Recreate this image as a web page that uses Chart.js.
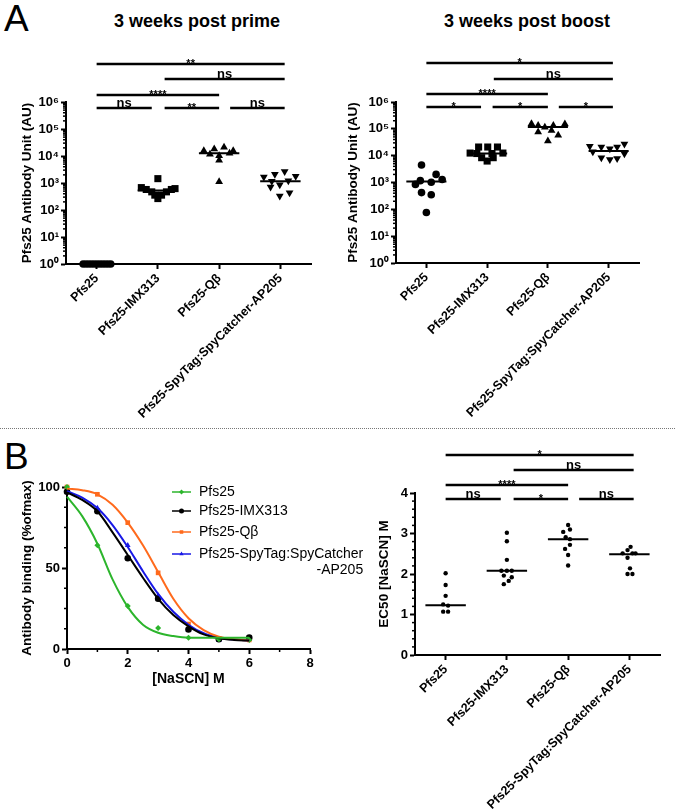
<!DOCTYPE html>
<html>
<head>
<meta charset="utf-8">
<script src="https://cdn.jsdelivr.net/npm/chart.js@4.4.0/dist/chart.umd.min.js"></script>
<style>
  body { margin: 0; background: #fff; width: 675px; height: 810px; position: relative; overflow: hidden;
         font-family: "Liberation Sans", Arial, sans-serif; }
  .panel { position: absolute; }
  .letter { position: absolute; font-size: 37px; line-height: 1; }
  .title { position: absolute; width: 220px; text-align: center; font-weight: bold; font-size: 18px; line-height: 20px; }
  #divider { position: absolute; left: 0; top: 428px; width: 675px; border-top: 1px dotted #777; }
</style>
</head>
<body>
<div class="letter" style="left:4px;top:0px">A</div>
<div class="letter" style="left:4px;top:438px">B</div>
<div class="title" style="left:87px;top:11px">3 weeks post prime</div>
<div class="title" style="left:417px;top:11px">3 weeks post boost</div>
<div id="divider"></div>

<div class="panel" style="left:0;top:0;width:330px;height:425px"><canvas id="prime"></canvas></div>
<div class="panel" style="left:330px;top:0;width:345px;height:425px"><canvas id="boost"></canvas></div>
<div class="panel" style="left:0;top:432px;width:375px;height:378px"><canvas id="avidity"></canvas></div>
<div class="panel" style="left:345px;top:432px;width:330px;height:378px"><canvas id="ec50"></canvas></div>

<script>
// ---- data ----
const groups = ["Pfs25", "Pfs25-IMX313", "Pfs25-Qβ", "Pfs25-SpyTag:SpyCatcher-AP205"];
const logTicks = [1, 10, 100, 1000, 10000, 100000, 1000000];
const logTickLabels = ["10⁰", "10¹", "10²", "10³", "10⁴", "10⁵", "10⁶"];

// 3 weeks post prime (AU)
const primePfs25 = [1, 1, 1, 1, 1, 1, 1, 1, 1, 1];
const primeIMX313 = [1450, 675, 575, 470, 355, 265, 355, 470, 575, 620];
const primeQb = [15500, 18200, 21000, 15500, 11700, 10200, 12600, 7000, 1120];
const primeAP205 = [1660, 2090, 2690, 1780, 1150, 870, 1200, 710, 330, 440];
const primeMedians = [1, 522, 12600, 1170];

// 3 weeks post boost (AU)
const boostPfs25 = [4500, 2000, 1290, 1020, 1170, 850, 420, 350, 76];
const boostIMX313 = [21000, 21000, 21000, 12500, 12000, 12000, 12500, 8400, 8400, 6300];
const boostQb = [155000, 132000, 115000, 132000, 151000, 76000, 87000, 58000, 35000];
const boostAP205 = [22400, 20900, 18200, 20900, 27500, 14100, 8300, 7200, 7900, 11700];
const boostMedians = [1100, 12000, 117000, 15000];

// EC50 [NaSCN] M
const ec50Pfs25 = [2.02, 1.73, 1.46, 1.25, 1.22, 1.07, 1.07];
const ec50IMX313 = [3.02, 2.81, 2.35, 2.08, 2.08, 2.08, 1.96, 1.92, 1.83, 1.75];
const ec50Qb = [3.21, 3.10, 3.04, 2.91, 2.86, 2.72, 2.62, 2.47, 2.21];
const ec50AP205 = [2.67, 2.59, 2.51, 2.51, 2.51, 2.40, 2.14, 2.00, 2.00];
const ec50Medians = [1.23, 2.08, 2.86, 2.49];

// avidity: measured binding (% of max)
const nascn = [0, 1, 2, 3, 4, 5, 6];
const bindPfs25 = [100, 64, 26.5, 13, 7, 6, 5.6];
const bindIMX313 = [97, 85, 56, 31, 12, 6, 7];
const bindQb = [100, 95.5, 78, 47, 15.4, 6.6, 5.6];
const bindAP205 = [97, 87, 64, 33, 11.7, 5.5, 6];

// fitted curves
const fitX = [0, 0.5, 1, 1.5, 2, 2.5, 3, 3.5, 4, 4.5, 5, 5.5, 6];
const fitPfs25 = [94, 82, 65, 43, 26, 15, 10, 8, 7, 7, 7, 7, 7];
const fitIMX313 = [96.7, 92, 85, 72, 58, 44, 31, 21, 14, 9, 6.6, 5.6, 5.2];
const fitQb = [99, 98, 95.5, 89, 78, 64, 47.5, 31, 19, 11.7, 7.6, 6, 5.2];
const fitAP205 = [97.5, 93.5, 87, 76.5, 63, 48, 34, 23, 15, 9.7, 7, 5.8, 5.2];

// horizontal scatter of the dots within each group (category units)
const primeJitter = [
  [-0.22, -0.17, -0.12, -0.07, -0.02, 0.03, 0.08, 0.13, 0.18, 0.23],
  [0, -0.27, -0.19, -0.10, -0.05, 0, 0.06, 0.14, 0.22, 0.28],
  [-0.25, -0.08, 0.08, 0.23, -0.15, 0, 0.17, 0, 0],
  [-0.27, -0.09, 0.07, 0.25, -0.14, -0.01, 0.13, -0.16, -0.01, 0.15]
];
const boostJitter = [
  [-0.08, 0.16, 0.26, 0.08, -0.1, -0.18, -0.08, 0.08, 0],
  [-0.14, 0.01, 0.17, -0.28, -0.17, 0.08, 0.26, -0.09, 0.1, 0],
  [-0.27, -0.16, -0.05, 0.09, 0.28, -0.16, 0.06, 0.17, 0],
  [-0.31, -0.12, 0.02, 0.14, 0.26, -0.26, -0.12, 0.02, 0.14, 0.26]
];
const ec50Jitter = [
  [0, 0, 0, -0.04, 0.04, -0.04, 0.04],
  [0, 0, 0, -0.09, 0, 0.08, -0.05, 0.08, 0.03, -0.05],
  [0, 0.03, -0.08, -0.04, 0.03, 0.03, -0.05, 0, 0],
  [0.02, -0.03, -0.11, 0.05, 0.1, -0.03, 0.01, -0.03, 0.05]
];

// ---- helpers ----
const BLACK = "#000";
const FONT = "'Liberation Sans', Arial, sans-serif";
Chart.defaults.font.family = FONT;
Chart.defaults.color = BLACK;

// minor ticks, significance bars and the legend of panel B
const decor = {
  id: "decor",
  afterDraw(chart, args, opts) {
    const ctx = chart.ctx;
    const xs = chart.scales.x, ys = chart.scales.y;
    ctx.save();
    ctx.strokeStyle = BLACK;
    ctx.fillStyle = BLACK;
    ctx.lineWidth = 1.5;
    (opts.minorY || []).forEach(v => {
      const py = ys.getPixelForValue(v);
      ctx.beginPath(); ctx.moveTo(ys.right, py); ctx.lineTo(ys.right - 3, py); ctx.stroke();
    });
    (opts.minorX || []).forEach(v => {
      const px = xs.getPixelForValue(v);
      ctx.beginPath(); ctx.moveTo(px, xs.top); ctx.lineTo(px, xs.top + 3); ctx.stroke();
    });

    ctx.textAlign = "center";
    ctx.textBaseline = "alphabetic";
    (opts.brackets || []).forEach(b => {
      const x1 = xs.getPixelForValue(b.from), x2 = xs.getPixelForValue(b.to);
      ctx.lineWidth = 2.5;
      ctx.beginPath(); ctx.moveTo(x1, b.y); ctx.lineTo(x2, b.y); ctx.stroke();
      const mid = (x1 + x2) / 2;
      if (b.text === "ns") {
        ctx.font = "bold 13px " + FONT;
        ctx.fillText("ns", mid, b.y - 1);
      } else {
        ctx.font = "bold 11px " + FONT;
        ctx.fillText(b.text, mid, b.y + 3);
      }
    });

    if (opts.legend) {
      const lg = opts.legend;
      chart.data.datasets.filter(d => d.label).forEach((d, i) => {
        const y = lg.rows[i];
        ctx.strokeStyle = d.pointBackgroundColor;
        ctx.fillStyle = d.pointBackgroundColor;
        ctx.lineWidth = 1.5;
        ctx.beginPath(); ctx.moveTo(lg.x, y); ctx.lineTo(lg.x + 19, y); ctx.stroke();
        Chart.helpers.drawPoint(ctx, { pointStyle: d.pointStyle, radius: 2.5, rotation: 0, borderWidth: 0 }, lg.x + 9.5, y);
        ctx.fillStyle = BLACK;
        ctx.font = "14px " + FONT;
        ctx.textAlign = "left";
        ctx.textBaseline = "middle";
        const parts = d.label.split(/(?=-AP205)/);
        ctx.fillText(parts[0], lg.x + 27, y);
        if (parts[1]) {
          const w = ctx.measureText(parts[0]).width;
          ctx.textAlign = "right";
          ctx.fillText(parts[1], lg.x + 27 + w, y + 16);
        }
      });
    }
    ctx.restore();
  }
};
Chart.register(decor);

const logMinor = [];
for (let d = 1; d < 1e6; d *= 10) for (let m = 2; m <= 9; m++) logMinor.push(d * m);

function axisStyle() {
  return {
    grid: { display: true, drawOnChartArea: false, drawTicks: true, tickLength: 5, tickWidth: 2, tickColor: BLACK },
    border: { display: true, color: BLACK, width: 2 }
  };
}

function groupXScale(height) {
  return Object.assign(axisStyle(), {
    type: "linear", min: -0.5, max: 3.5,
    afterBuildTicks: s => { s.ticks = groups.map((g, i) => ({ value: i })); },
    afterFit: s => { s.height = height; },
    ticks: {
      autoSkip: false, maxRotation: 45, minRotation: 45, padding: 2,
      font: { weight: "bold", size: 12.5 }, color: BLACK,
      callback: (v, i) => groups[i]
    }
  });
}

function dotDatasets(series, jitter, medians, marks) {
  const sets = [];
  series.forEach((vals, g) => {
    sets.push({
      type: "scatter",
      data: vals.map((v, k) => ({ x: g + jitter[g][k], y: v })),
      pointStyle: marks.style[g],
      pointRotation: marks.rot[g],
      pointRadius: marks.radius[g],
      pointBackgroundColor: BLACK,
      pointBorderWidth: 0,
      clip: false
    });
  });
  medians.forEach((m, g) => {
    sets.push({
      type: "line",
      data: [{ x: g - 0.33, y: m }, { x: g + 0.33, y: m }],
      borderColor: BLACK, borderWidth: 2, pointRadius: 0, clip: false
    });
  });
  return sets;
}

const aMarks = { style: ["circle", "rect", "triangle", "triangle"], rot: [0, 0, 0, 180], radius: [3.8, 5, 4.5, 4.5] };

function logChart(id, series, jitter, medians, titlePad, padRight, xHeight, brackets) {
  new Chart(document.getElementById(id), {
    type: "scatter",
    data: { datasets: dotDatasets(series, jitter, medians, aMarks) },
    options: {
      responsive: true, maintainAspectRatio: false, animation: false, events: [],
      layout: { autoPadding: false, padding: { top: 102, right: padRight, left: 0, bottom: 0 } },
      plugins: { legend: { display: false }, tooltip: { enabled: false },
                 decor: { minorY: logMinor, brackets: brackets } },
      scales: {
        x: groupXScale(xHeight),
        y: Object.assign(axisStyle(), {
          type: "logarithmic", min: 1, max: 1e6,
          afterBuildTicks: s => { s.ticks = logTicks.map(v => ({ value: v })); },
          afterFit: s => { s.width = 66; },
          ticks: { font: { weight: "bold", size: 13 }, color: BLACK, padding: 2,
                   callback: (v, i) => logTickLabels[i] },
          title: { display: true, text: "Pfs25 Antibody Unit (AU)", color: BLACK,
                   font: { weight: "bold", size: 13.5 }, padding: { top: titlePad, bottom: 0 } }
        })
      }
    }
  });
}

// ---- panel A ----
logChart("prime", [primePfs25, primeIMX313, primeQb, primeAP205], primeJitter, primeMedians, 19, 19, 161, [
  { from: 0, to: 3.07, y: 64, text: "**" },
  { from: 1.11, to: 3.07, y: 79, text: "ns" },
  { from: 0, to: 2.0, y: 95, text: "****" },
  { from: 0, to: 0.9, y: 108, text: "ns" },
  { from: 1.11, to: 2.0, y: 108, text: "**" },
  { from: 2.18, to: 3.07, y: 108, text: "ns" }
]);

logChart("boost", [boostPfs25, boostIMX313, boostQb, boostAP205], boostJitter, boostMedians, 15, 36, 162, [
  { from: 0, to: 3.07, y: 63, text: "*" },
  { from: 1.11, to: 3.07, y: 79, text: "ns" },
  { from: 0, to: 2.0, y: 94, text: "****" },
  { from: 0, to: 0.9, y: 107, text: "*" },
  { from: 1.09, to: 2.0, y: 107, text: "*" },
  { from: 2.18, to: 3.07, y: 107, text: "*" }
]);

// ---- panel B, avidity curves ----
const curveColors = ["#2cb52c", "#000000", "#ff6a1c", "#1818e6"];
const curveMarks = ["rectRot", "circle", "rect", "triangle"];
const fits = [fitPfs25, fitIMX313, fitQb, fitAP205];
const binds = [bindPfs25, bindIMX313, bindQb, bindAP205];

const avidSets = [];
fits.forEach((f, s) => avidSets.push({
  type: "line",
  data: fitX.map((x, i) => ({ x: x, y: f[i] })),
  borderColor: curveColors[s], borderWidth: 2, pointRadius: 0,
  cubicInterpolationMode: "monotone", clip: false
}));
binds.forEach((b, s) => avidSets.push({
  type: "scatter",
  label: groups[s],
  data: nascn.map((x, i) => ({ x: x, y: b[i] })),
  pointStyle: curveMarks[s], pointRadius: s === 0 ? 3 : 3.3,
  pointBackgroundColor: curveColors[s], pointBorderWidth: 0, clip: false
}));

new Chart(document.getElementById("avidity"), {
  type: "scatter",
  data: { datasets: avidSets },
  options: {
    responsive: true, maintainAspectRatio: false, animation: false, events: [],
    layout: { autoPadding: false, padding: { top: 55, right: 65, left: 0, bottom: 118 } },
    plugins: {
      legend: { display: false }, tooltip: { enabled: false },
      decor: {
        minorX: [1, 3, 5, 7],
        minorY: [12.5, 25, 37.5, 62.5, 75, 87.5],
        legend: { x: 172, rows: [60, 79, 100, 122] }
      }
    },
    scales: {
      x: Object.assign(axisStyle(), {
        type: "linear", min: 0, max: 8,
        afterFit: s => { s.height = 43; },
        ticks: { stepSize: 2, font: { weight: "bold", size: 13 }, color: BLACK, padding: 2 },
        title: { display: true, text: "[NaSCN] M", color: BLACK, font: { weight: "bold", size: 14 },
                 padding: { top: 0, bottom: 4 } }
      }),
      y: Object.assign(axisStyle(), {
        type: "linear", min: 0, max: 100,
        afterBuildTicks: s => { s.ticks = [0, 50, 100].map(v => ({ value: v })); },
        afterFit: s => { s.width = 67; },
        ticks: { font: { weight: "bold", size: 13 }, color: BLACK, padding: 2 },
        title: { display: true, text: "Antibody binding (%ofmax)", color: BLACK,
                 font: { weight: "bold", size: 13.5 }, padding: { top: 19, bottom: 0 } }
      })
    }
  }
});

// ---- panel B, EC50 ----
const ec50Minor = [];
for (let v = 0.2; v < 4; v += 0.2) if (Math.abs(v - Math.round(v)) > 0.01) ec50Minor.push(v);

new Chart(document.getElementById("ec50"), {
  type: "scatter",
  data: { datasets: dotDatasets([ec50Pfs25, ec50IMX313, ec50Qb, ec50AP205], ec50Jitter, ec50Medians,
          { style: ["circle", "circle", "circle", "circle"], rot: [0, 0, 0, 0], radius: [2.2, 2.2, 2.2, 2.2] }) },
  options: {
    responsive: true, maintainAspectRatio: false, animation: false, events: [],
    layout: { autoPadding: false, padding: { top: 61, right: 15, left: 0, bottom: 0 } },
    plugins: {
      legend: { display: false }, tooltip: { enabled: false },
      decor: {
        minorY: ec50Minor,
        brackets: [
          { from: 0, to: 3.07, y: 23, text: "*" },
          { from: 1.11, to: 3.07, y: 38, text: "ns" },
          { from: 0, to: 2.0, y: 53, text: "****" },
          { from: 0, to: 0.9, y: 67, text: "ns" },
          { from: 1.11, to: 2.0, y: 67, text: "*" },
          { from: 2.18, to: 3.07, y: 67, text: "ns" }
        ]
      }
    },
    scales: {
      x: groupXScale(155),
      y: Object.assign(axisStyle(), {
        type: "linear", min: 0, max: 4,
        afterBuildTicks: s => { s.ticks = [0, 1, 2, 3, 4].map(v => ({ value: v })); },
        afterFit: s => { s.width = 70; },
        ticks: { font: { weight: "bold", size: 13 }, color: BLACK, padding: 2 },
        title: { display: true, text: "EC50 [NaSCN] M", color: BLACK,
                 font: { weight: "bold", size: 13.5 }, padding: { top: 31, bottom: 0 } }
      })
    }
  }
});
</script>
</body>
</html>
